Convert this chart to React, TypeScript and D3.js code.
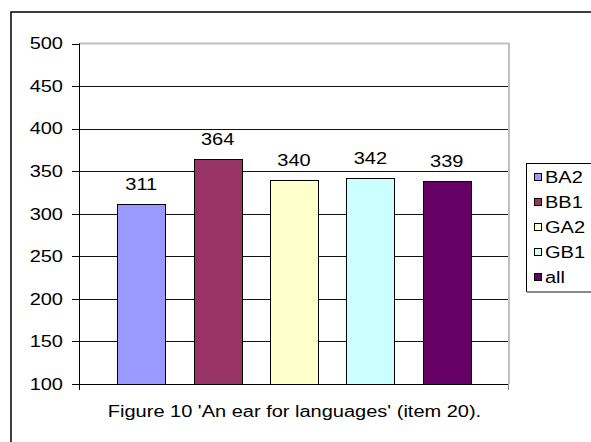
import * as d3 from 'd3';

const series = ['BA2', 'BB1', 'GA2', 'GB1', 'all'];
const values = [311, 364, 340, 342, 339];
const colors = ['#9999ff', '#993366', '#ffffcc', '#ccffff', '#660066'];
const yTicks = [100, 150, 200, 250, 300, 350, 400, 450, 500];
const title = "Figure 10 'An ear for languages' (item 20).";

const W = 591;
const H = 442;
const plot = { left: 79, right: 509, top: 43.5, bottom: 384 };
const font = 'Arial, "Liberation Sans", sans-serif';
const fs = 16;
const sx = 1.25; // the picture's text is stretched sideways

const App = () => {
  const x = d3.scaleBand()
    .domain(series)
    .range([plot.left, plot.right])
    .paddingInner(0.37)
    .paddingOuter(0.5);

  const y = d3.scaleLinear()
    .domain([100, 500])
    .range([plot.bottom, plot.top]);

  const txt = (tx, ty, s, anchor = 'start') => (
    <text
      transform={`translate(${tx},${ty}) scale(${sx},1)`}
      textAnchor={anchor}
      fontFamily={font}
      fontSize={fs}
      fill="#000"
    >{s}</text>
  );

  const legendTop = 163;
  const legendStep = 25;

  return (
    <svg width={W} height={H} style={{ position: 'absolute', left: 0, top: 0, background: '#fff' }}>
      <rect x={11} y={12} width={620} height={500} fill="#fff" stroke="#000" strokeWidth={1.5} />

      {/* gridlines */}
      <g stroke="#111" strokeWidth={1}>
        {yTicks.slice(1, -1).map(t => (
          <line key={t} x1={plot.left} x2={plot.right} y1={Math.round(y(t)) + 0.5} y2={Math.round(y(t)) + 0.5} />
        ))}
      </g>
      {/* plot border top/right */}
      <path
        d={`M${plot.left},${plot.top} H${plot.right} V${plot.bottom}`}
        fill="none" stroke="#c0c0c0" strokeWidth={2}
      />

      {/* bars */}
      <g stroke="#000" strokeWidth={1}>
        {series.map((s, i) => (
          <rect
            key={s}
            x={Math.round(x(s)) + 0.5}
            y={Math.round(y(values[i])) + 0.5}
            width={Math.round(x.bandwidth())}
            height={Math.round(y(100)) - Math.round(y(values[i]))}
            fill={colors[i]}
          />
        ))}
      </g>

      {/* value labels */}
      {series.map((s, i) => (
        <g key={s}>{txt(x(s) + x.bandwidth() / 2, y(values[i]) - 14, String(values[i]), 'middle')}</g>
      ))}

      {/* axes */}
      <g stroke="#000" strokeWidth={1}>
        <line x1={plot.left + 0.5} x2={plot.left + 0.5} y1={plot.top} y2={plot.bottom + 6} />
        <line x1={plot.left} x2={plot.right} y1={plot.bottom + 0.5} y2={plot.bottom + 0.5} />
        <line x1={plot.right - 0.5} x2={plot.right - 0.5} y1={plot.bottom} y2={plot.bottom + 6} stroke="#888" />
        {yTicks.map(t => (
          <line key={t} x1={plot.left - 7} x2={plot.left} y1={Math.round(y(t)) + 0.5} y2={Math.round(y(t)) + 0.5} />
        ))}
      </g>
      {yTicks.map(t => (
        <g key={t}>{txt(63, y(t) + 5.8, String(t), 'end')}</g>
      ))}

      {/* legend */}
      <rect x={526.5} y={legendTop + 0.5} width={80} height={128} fill="#fff" stroke="#000" strokeWidth={1} />
      <line x1={527} x2={600} y1={legendTop + 129} y2={legendTop + 129} stroke="#888" strokeWidth={2} />
      {series.map((s, i) => {
        const cy = legendTop + 14 + i * legendStep;
        return (
          <g key={s}>
            <rect x={534.5} y={cy - 3.5} width={7} height={7} fill={colors[i]} stroke="#000" strokeWidth={1} />
            {txt(545, cy + 5.8, s)}
          </g>
        );
      })}

      {/* caption */}
      {txt(294.5, 417, title, 'middle')}
    </svg>
  );
};

export default App;
